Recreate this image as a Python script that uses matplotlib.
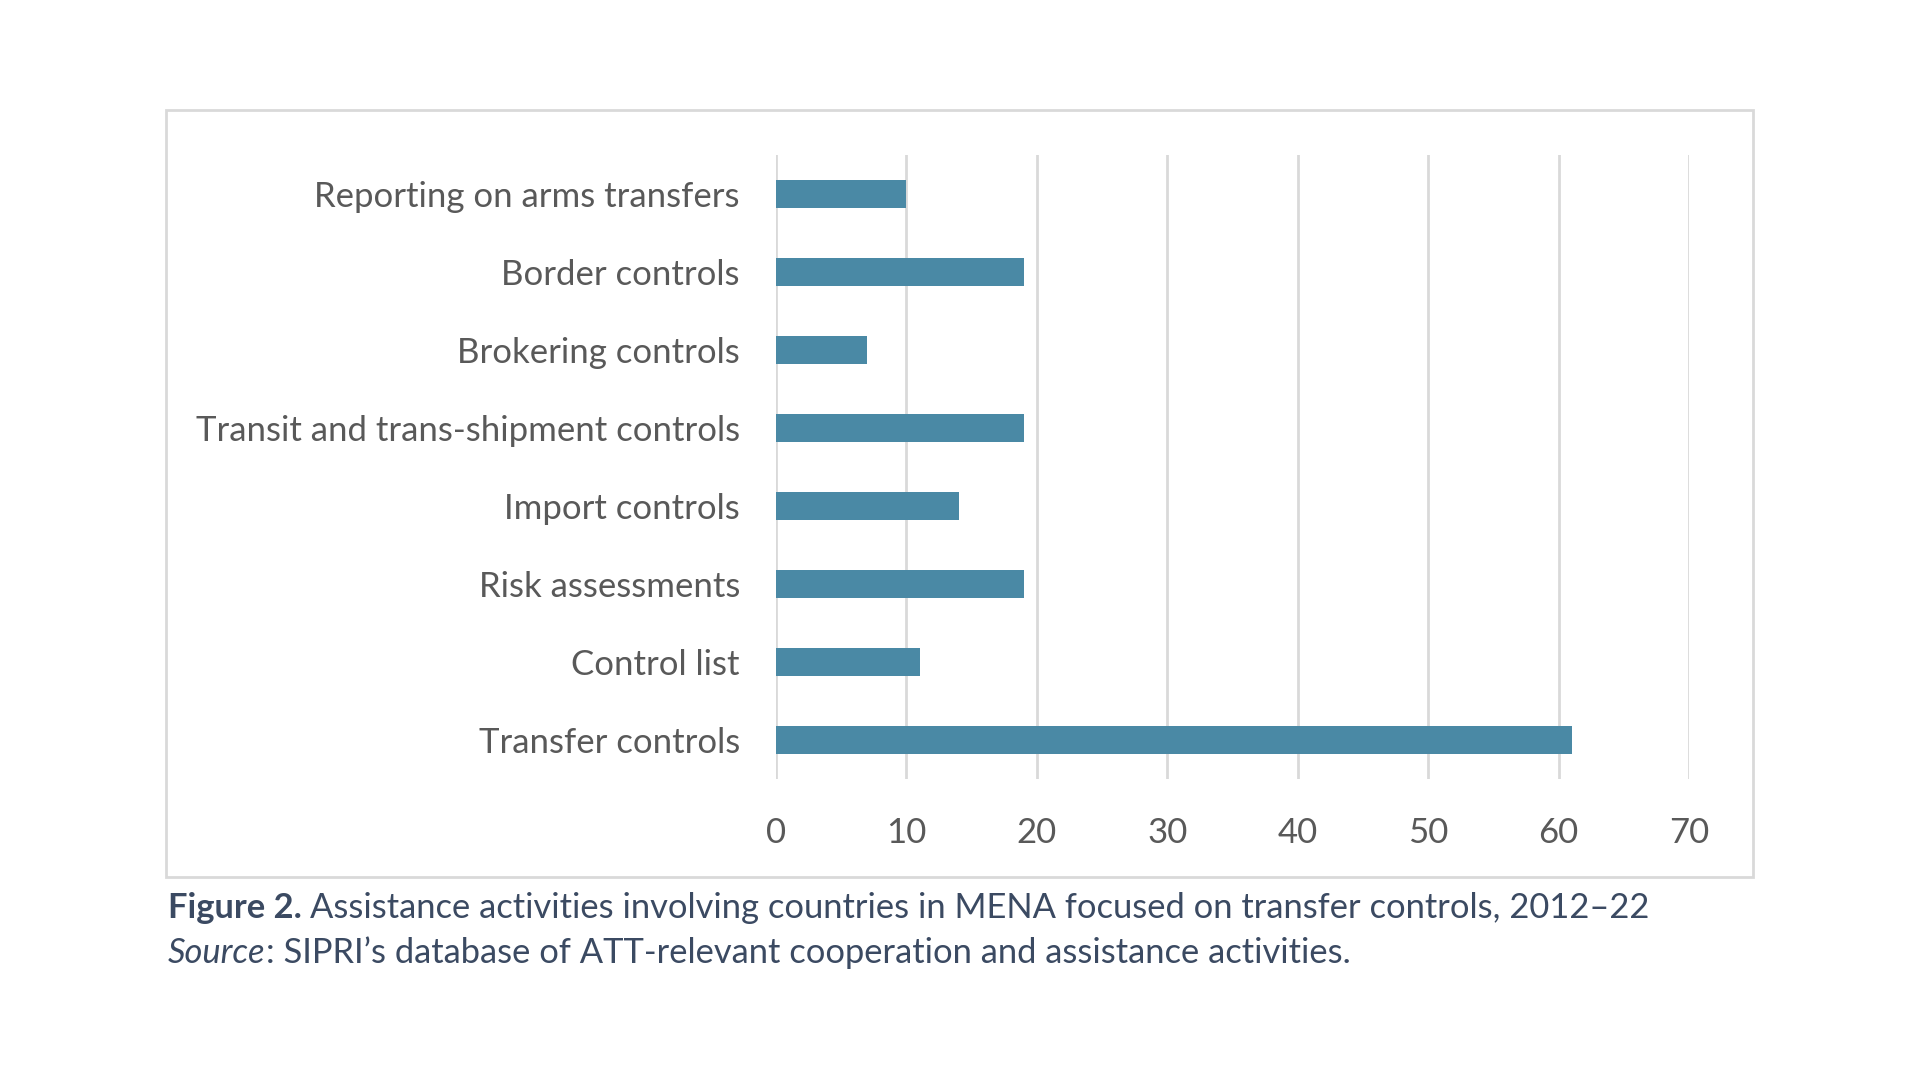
import matplotlib.pyplot as plt
from matplotlib.patches import Rectangle

categories = ["Transfer controls", "Control list", "Risk assessments", "Import controls",
              "Transit and trans-shipment controls", "Brokering controls", "Border controls",
              "Reporting on arms transfers"]
values = [61, 11, 19, 14, 19, 7, 19, 10]
xticks = [0, 10, 20, 30, 40, 50, 60, 70]

plt.rcParams['font.family'] = ['Lato', 'DejaVu Sans']

fig = plt.figure(figsize=(19.2, 10.8), dpi=100)
ax = fig.add_axes([0.4042, 0.2787, 0.4755, 0.578])

ax.barh(range(len(categories)), values, height=0.36, color="#4a89a5", zorder=3)
ax.set_ylim(-0.5, len(categories) - 0.5)
ax.set_xlim(0, 70)
ax.set_xticks(xticks)
ax.set_yticks(range(len(categories)))
ax.set_yticklabels(categories)
ax.tick_params(axis="both", length=0, labelsize=25, colors="#595959")
ax.tick_params(axis="y", pad=26)
ax.tick_params(axis="x", pad=27)
ax.grid(axis="x", color="#d9d9d9", linewidth=2, zorder=0)
for s in ax.spines.values():
    s.set_visible(False)

# outer frame of the chart area
fig.patches.append(Rectangle((166 / 1920, 1 - 877 / 1080), (1753 - 166) / 1920, (877 - 110) / 1080,
                             transform=fig.transFigure, fill=False, edgecolor="#d9d9d9", linewidth=2))

cap_color = "#3b4a62"
cap_size = 24.8
r = fig.canvas.get_renderer()
t1 = fig.text(168 / 1920, 1 - 908 / 1080, "Figure 2.", fontsize=cap_size, fontweight="bold",
              color=cap_color, va="center")
bb = t1.get_window_extent(r)
fig.text(bb.x1 / 1920 + 0.004, 1 - 908 / 1080,
         "Assistance activities involving countries in MENA focused on transfer controls, 2012\u201322",
         fontsize=cap_size, color=cap_color, va="center")
t2 = fig.text(168 / 1920, 1 - 953 / 1080, "Source", fontsize=cap_size, fontstyle="italic",
              color=cap_color, va="center")
bb = t2.get_window_extent(r)
fig.text(bb.x1 / 1920, 1 - 953 / 1080,
         ": SIPRI\u2019s database of ATT-relevant cooperation and assistance activities.",
         fontsize=cap_size, color=cap_color, va="center")

fig.savefig("out.png", dpi=100)
plt.close()
